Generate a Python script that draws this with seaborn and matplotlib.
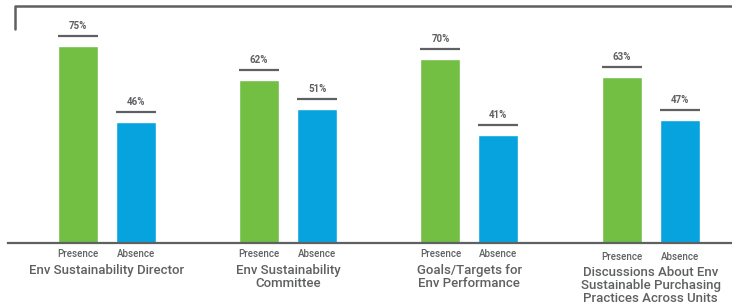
import matplotlib
matplotlib.use("Agg")
import matplotlib.pyplot as plt
import matplotlib.transforms as mtransforms
from matplotlib.lines import Line2D
import numpy as np
import pandas as pd
import seaborn as sns

# data
groups = [
    "Env Sustainability Director",
    "Env Sustainability\nCommittee",
    "Goals/Targets for\nEnv Performance",
    "Discussions About Env\nSustainable Purchasing\nPractices Across Units",
]
presence = [75, 62, 70, 63]
absence = [46, 51, 41, 47]
conditions = ["Presence", "Absence"]

GREEN = "#72bf44"
BLUE = "#07a3df"
GREY = "#5f6062"

df = pd.DataFrame({
    "group": groups * 2,
    "condition": ["Presence"] * len(groups) + ["Absence"] * len(groups),
    "value": presence + absence,
})

sns.set_theme(style="white")
plt.rcParams["font.family"] = ["Roboto", "Liberation Sans", "DejaVu Sans"]

fig = plt.figure(figsize=(7.32, 3.04), dpi=100)
ax = fig.add_axes([8 / 732, 1 - 243 / 304, 1 - 8 / 732, 237 / 304])

sns.barplot(data=df, x="group", y="value", hue="condition", order=groups,
            hue_order=conditions, palette=[GREEN, BLUE], width=0.64, gap=0.31,
            saturation=1, legend=False, ax=ax)

ax.set_ylim(0, 90.2)
ax.set_xlim(-0.546, 3.449)
ax.set_xlabel("")
ax.set_ylabel("")
ax.set_yticks([])
ax.set_xticks([])
for s in ["top", "left", "right"]:
    ax.spines[s].set_visible(False)
ax.spines["bottom"].set_color(GREY)
ax.spines["bottom"].set_linewidth(1.6)

# px per data unit, to place the bracket lines and labels
ppu = ax.get_window_extent().height / 90.2
trans_x = mtransforms.blended_transform_factory(ax.transData, ax.transAxes)

for i, p in enumerate(ax.patches[:2 * len(groups)]):
    h = p.get_height()
    x0, x1 = p.get_x(), p.get_x() + p.get_width()
    xc = (x0 + x1) / 2
    ax.plot([x0, x1], [h + 10 / ppu, h + 10 / ppu], color=GREY, lw=1.6,
            solid_capstyle="butt", clip_on=False)
    ax.text(xc, h + 20 / ppu, f"{h:.0f}%", ha="center", va="center",
            fontsize=7, fontweight="bold", color=GREY)
    cond = conditions[i // len(groups)]
    gi = i % len(groups)
    dy = -14 if gi == 3 else -11
    ax.annotate(cond, (xc, 0), xycoords=trans_x, xytext=(0, dy),
                textcoords="offset pixels", ha="center", va="center",
                fontsize=7, fontweight="medium", color=GREY)

for gi, g in enumerate(groups):
    dy = -23 if gi == 3 else -21
    ax.annotate(g, (gi, 0), xycoords=trans_x, xytext=(0, dy),
                textcoords="offset pixels", ha="center", va="top",
                fontsize=9.5, fontweight="medium", color=GREY, linespacing=1.0)

# bracket at the top-left
fig.add_artist(Line2D([15 / 732, 15 / 732, 1], [1 - 29 / 304, 1 - 6 / 304, 1 - 6 / 304],
                      transform=fig.transFigure, color=GREY, lw=1.8))

fig.savefig("out.png", dpi=100)
